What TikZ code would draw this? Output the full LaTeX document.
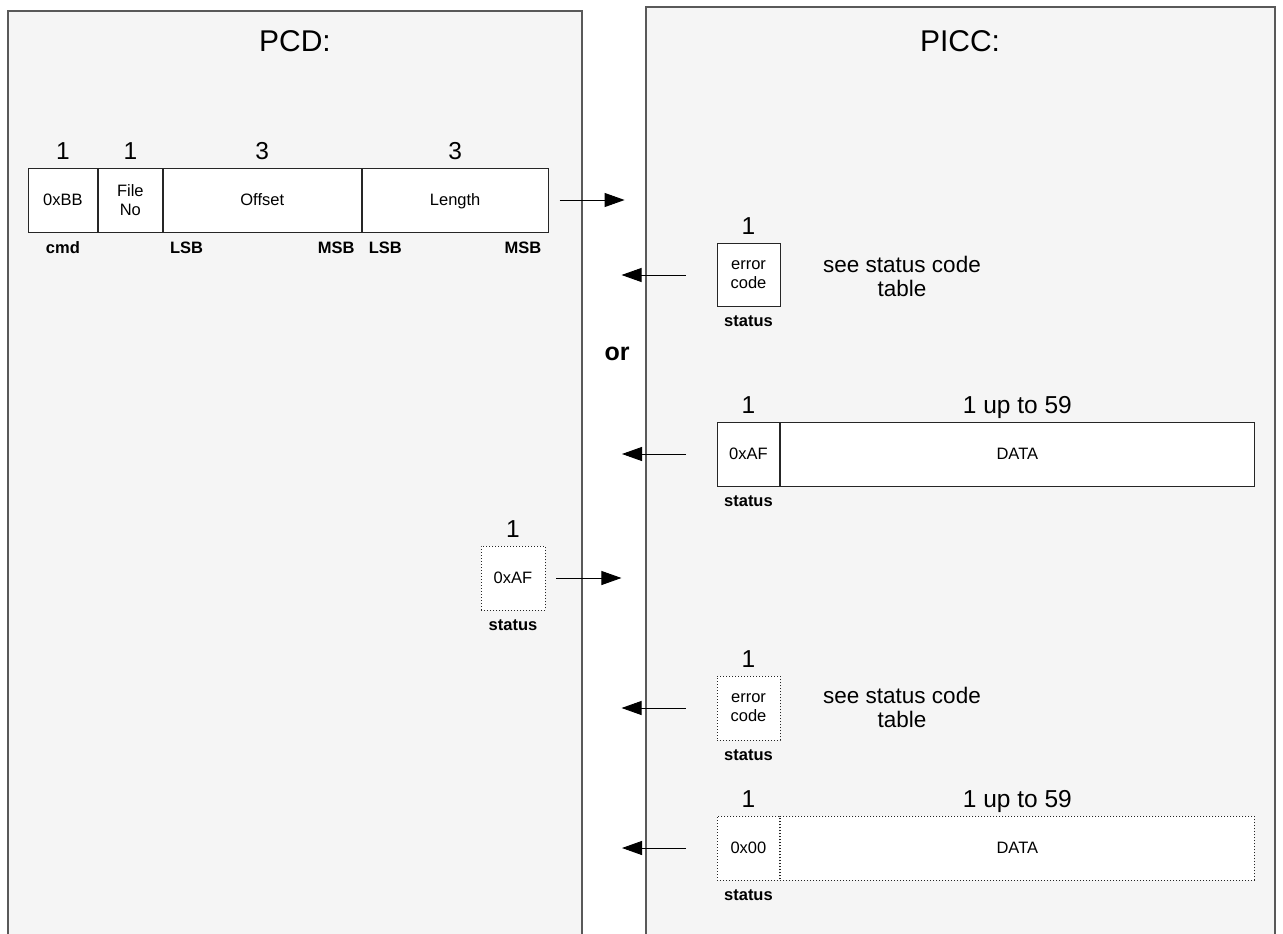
\documentclass[tikz,border=0pt]{standalone}
\usepackage{fontspec}
\setmainfont{Liberation Sans}
\usetikzlibrary{arrows.meta}

\begin{document}
\begin{tikzpicture}[x=1pt, y=-1pt,
    panel/.style={draw=black!65, line width=1.5, fill=black!4},
    cell/.style={draw=black!85, line width=0.9, fill=white, inner sep=0, minimum height=64,
                 align=center, font=\fontsize{16.5}{19}\selectfont},
    dcell/.style={cell, dash pattern=on 1pt off 2pt},
    num/.style={font=\fontsize{24.5}{28}\selectfont, inner sep=2, text depth=5, above=1},
    tag/.style={font=\fontsize{16.5}{20}\selectfont\bfseries, inner sep=2},
    note/.style={font=\fontsize{22.5}{24}\selectfont, align=center},
    msg/.style={-{Triangle[length=20, width=14]}, line width=0.9}]
        \useasboundingbox (0,0) rectangle (1283,934);
        \clip (0,0) rectangle (1283,934);

        % the two sides
        \draw[panel] (8,11) rectangle (582,950);
        \draw[panel] (646,7) rectangle (1275,950);
        \node[font=\fontsize{30}{34}\selectfont] (pcd) at (295,41) {PCD:};
        \node[font=\fontsize{30}{34}\selectfont] (picc) at (960,41) {PICC:};

        % command frame
        \node[cell, minimum width=69, anchor=west] (cmd) at (28,200) {0xBB};
        \node[cell, minimum width=64, anchor=west] (fno) at (cmd.east) {File\\No};
        \node[cell, minimum width=198, anchor=west] (off) at (fno.east) {Offset};
        \node[cell, minimum width=186, anchor=west, text depth=0] (len) at (off.east) {Length};
        \node[num] (ncmd) at (cmd.north) {1};
        \node[num] (nfno) at (fno.north) {1};
        \node[num] (noff) at (off.north) {3};
        \node[num] (nlen) at (len.north) {3};
        \node[tag, below] (tcmd) at ([yshift=-7]cmd.south) {cmd};
        \node[tag, anchor=north west] (offl) at ([xshift=5,yshift=-7]off.south west) {LSB};
        \node[tag, anchor=north east] (offm) at ([xshift=-5,yshift=-7]off.south east) {MSB};
        \node[tag, anchor=north west] (lenl) at ([xshift=5,yshift=-7]len.south west) {LSB};
        \node[tag, anchor=north east] (lenm) at ([xshift=-5,yshift=-7]len.south east) {MSB};
        \coordinate (a1s) at ([xshift=11]len.east);
        \coordinate (a1e) at ([xshift=76]len.east);
        \draw[msg] (a1s) -- (a1e);

        % answer: error
        \node[cell, minimum width=63, minimum height=63] (err1) at (748.5,275) {error\\code};
        \node[num] (nerr1) at (err1.north) {1};
        \node[tag, below] (serr1) at ([yshift=-7]err1.south) {status};
        \node[note] (see1) at (902,276) {see status code\\table};
        \coordinate (a2s) at ([xshift=-31]err1.west);
        \coordinate (a2e) at ([xshift=-95]err1.west);
        \draw[msg] (a2s) -- (a2e);

        \node[font=\fontsize{25}{28}\selectfont\bfseries] (or) at (617,354) {or};

        % answer: data, more frames follow
        \node[cell, minimum width=62, anchor=west] (st1) at (717,454) {0xAF};
        \node[cell, minimum width=474, anchor=west] (dat1) at (st1.east) {DATA};
        \node[num] (nst1) at (st1.north) {1};
        \node[num] (ndat1) at (dat1.north) {1 up to 59};
        \node[tag, below] (sst1) at ([yshift=-7]st1.south) {status};
        \coordinate (a3s) at ([xshift=-31]st1.west);
        \coordinate (a3e) at ([xshift=-95]st1.west);
        \draw[msg] (a3s) -- (a3e);

        % additional frame
        \node[dcell, minimum width=64] (more) at (513,578) {0xAF};
        \node[num] (nmore) at (more.north) {1};
        \node[tag, below] (smore) at ([yshift=-7]more.south) {status};
        \coordinate (a4s) at ([xshift=11]more.east);
        \coordinate (a4e) at ([xshift=76]more.east);
        \draw[msg] (a4s) -- (a4e);

        % answer: error
        \node[dcell, minimum width=63] (err2) at (748.5,708) {error\\code};
        \node[num] (nerr2) at (err2.north) {1};
        \node[tag, below] (serr2) at ([yshift=-7]err2.south) {status};
        \node[note] (see2) at (902,707) {see status code\\table};
        \coordinate (a5s) at ([xshift=-31]err2.west);
        \coordinate (a5e) at ([xshift=-95]err2.west);
        \draw[msg] (a5s) -- (a5e);

        % answer: last data
        \node[dcell, minimum width=62, anchor=west] (st2) at (717,848) {0x00};
        \node[dcell, minimum width=474, anchor=west] (dat2) at (st2.east) {DATA};
        \node[num] (nst2) at (st2.north) {1};
        \node[num] (ndat2) at (dat2.north) {1 up to 59};
        \node[tag, below] (sst2) at ([yshift=-7]st2.south) {status};
        \coordinate (a6s) at ([xshift=-31]st2.west);
        \coordinate (a6e) at ([xshift=-95]st2.west);
        \draw[msg] (a6s) -- (a6e);
    \end{tikzpicture}
\end{document}
